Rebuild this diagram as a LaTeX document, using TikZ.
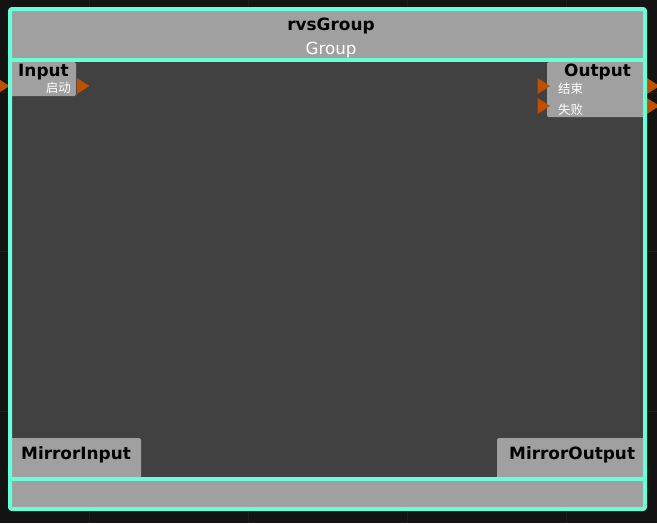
\documentclass[tikz,border=0pt]{standalone}
\usepackage{fontspec}
\setmainfont{DejaVu Sans}
\newfontfamily\cjk{Noto Sans CJK SC}
\definecolor{canvas}{HTML}{131313}
\definecolor{gridc}{HTML}{1E1E1E}
\definecolor{panelc}{HTML}{A0A0A0}
\definecolor{bodyc}{HTML}{414141}
\definecolor{framec}{HTML}{66FFD6}
\definecolor{portc}{HTML}{C05000}
\tikzset{
  gridline/.style={gridc,line width=1pt},
  frameline/.style={framec,line width=4pt},
  boxlabel/.style={font=\fontsize{16.9}{20}\selectfont\bfseries,text=black,inner sep=0pt},
  subtitle/.style={font=\fontsize{16.7}{20}\selectfont,text=white,inner sep=0pt},
  portlabel/.style={font=\cjk\fontsize{12.5}{14}\selectfont,text=white,inner sep=0pt},
}
\newcommand\porttri[2]{\fill[portc] (#1,{#2-8}) -- ({#1+12.5},#2) -- (#1,{#2+8}) -- cycle;}
\begin{document}
\begin{tikzpicture}[x=1pt,y=-1pt,line join=round]
  \useasboundingbox (0,0) rectangle (657,523);
  \fill[canvas] (0,0) rectangle (657,523);
  \foreach \gx in {89,248,407,566} \draw[gridline] (\gx,0) -- (\gx,523);
  \foreach \gy in {92,251,411} \draw[gridline] (0,\gy) -- (657,\gy);
  % group body
  \fill[panelc] (10,9) rectangle (645,60);
  \fill[bodyc] (10,60) rectangle (645,479);
  \fill[panelc] (10,479) rectangle (645,509);
  % port boxes
  \fill[panelc,rounded corners=1.5pt] (10,62) rectangle (76,96);
  \fill[panelc,rounded corners=1.5pt] (547,62) rectangle (645,117);
  \fill[panelc,rounded corners=1.5pt] (10,438) rectangle (141,479);
  \fill[panelc,rounded corners=1.5pt] (497,438) rectangle (645,479);
  \porttri{-3}{86}
  \porttri{77}{86}
  \porttri{537.5}{86}
  \porttri{537.5}{106}
  \porttri{647}{86}
  \porttri{647}{106}
  % frame
  \draw[frameline,rounded corners=2pt] (10,9) rectangle (645,509);
  \draw[frameline] (10,60) -- (645,60);
  \draw[frameline] (10,479) -- (645,479);
  % texts
  \node[boxlabel,anchor=base] (title) at (331,30) {rvsGroup};
  \node[subtitle,anchor=base] (kind) at (331,54) {Group};
  \node[boxlabel,anchor=base west] (inlbl) at (18,76) {Input};
  \node[portlabel,anchor=base east] (start) at (71,92) {启动};
  \node[boxlabel,anchor=base west] (outlbl) at (564,76) {Output};
  \node[portlabel,anchor=base west] (done) at (558,93) {结束};
  \node[portlabel,anchor=base west] (fail) at (558,114) {失败};
  \node[boxlabel,anchor=base west] (mirin) at (21,459) {MirrorInput};
  \node[boxlabel,anchor=base west] (mirout) at (509,459) {MirrorOutput};
\end{tikzpicture}
\end{document}
